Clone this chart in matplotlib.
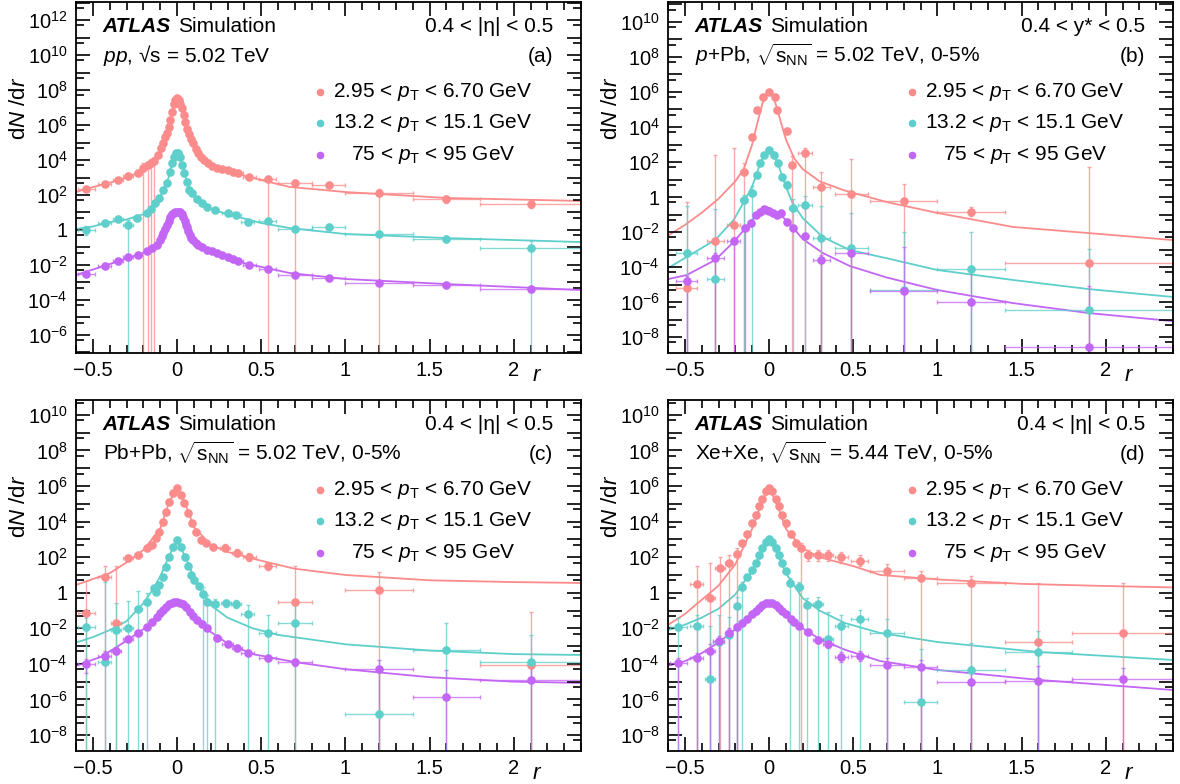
import numpy as np
import matplotlib.pyplot as plt
from matplotlib.ticker import FixedLocator, FuncFormatter, MultipleLocator

plt.rcParams['font.family'] = ['Liberation Sans', 'DejaVu Sans']
plt.rcParams['mathtext.fontset'] = 'custom'
plt.rcParams['mathtext.rm'] = 'Liberation Sans'
plt.rcParams['mathtext.it'] = 'Liberation Sans:italic'
plt.rcParams['mathtext.bf'] = 'Liberation Sans:bold'

PINK = '#fc8b8b'
TEAL = '#5ecfca'
PURPLE = '#c466f5'

legend_labels = ['2.95 < $p_\\mathrm{T}$ < 6.70 GeV',
                 '13.2 < $p_\\mathrm{T}$ < 15.1 GeV',
                 '75 < $p_\\mathrm{T}$ < 95 GeV']
systems = ['$pp$, \u221as = 5.02 TeV',
           '$p$+Pb, $\\sqrt{\\mathrm{s}_\\mathrm{NN}}$ = 5.02 TeV, 0-5%',
           'Pb+Pb, $\\sqrt{\\mathrm{s}_\\mathrm{NN}}$ = 5.02 TeV, 0-5%',
           'Xe+Xe, $\\sqrt{\\mathrm{s}_\\mathrm{NN}}$ = 5.44 TeV, 0-5%']
ranges = ['0.4 < |\u03b7| < 0.5', '0.4 < y* < 0.5', '0.4 < |\u03b7| < 0.5', '0.4 < |\u03b7| < 0.5']
tags = ['(a)', '(b)', '(c)', '(d)']
ylims = [(-7.03, 13.03), (-8.91, 11.14), (-8.9, 10.84), (-8.9, 10.84)]

# rows: (r, log10 dN/dr[, x half width, err down in decades (99 = to axis), err up])
a_pink = [(-0.54, 2.34, 0.05, 0.1, 0.1), (-0.43, 2.63, 0.04, 0.1, 0.1), (-0.35, 2.86, 0.03, 0.1, 0.1),
          (-0.29, 3.09, 0.03, 0.15, 0.15), (-0.23, 3.26, 0.02, 0.15, 0.15), (-0.2, 3.55, 0.01, 99, 0.3),
          (-0.175, 3.7, 0.01, 99, 0.2), (-0.155, 3.85, 0.01, 99, 0.2), (-0.135, 3.95, 0.01, 99, 0.2),
          (-0.11, 4.3), (-0.095, 4.7), (-0.083, 4.97), (-0.07, 5.3), (-0.06, 5.54), (-0.05, 5.9),
          (-0.04, 6.29), (-0.03, 6.75), (-0.02, 7.2), (-0.01, 7.45), (0.0, 7.54), (0.01, 7.45),
          (0.02, 7.2), (0.03, 7.0), (0.04, 6.6), (0.048, 6.2), (0.06, 5.8), (0.07, 5.5), (0.083, 5.2),
          (0.095, 4.97), (0.11, 4.65), (0.125, 4.4), (0.14, 4.2), (0.16, 4.0), (0.185, 3.83),
          (0.21, 3.68), (0.24, 3.54, 0.02, 0.1, 0.1), (0.27, 3.48, 0.02, 0.1, 0.1), (0.3, 3.43, 0.03, 0.1, 0.1),
          (0.33, 3.33, 0.03, 0.1, 0.1), (0.36, 3.26, 0.03, 0.1, 0.1), (0.43, 3.03, 0.04, 0.1, 0.1),
          (0.54, 2.91, 0.05, 99, 0.1), (0.7, 2.69, 0.1, 99, 0.15), (0.9, 2.57, 0.1, 0.05, 0.05),
          (1.2, 2.11, 0.2, 99, 0.25), (1.6, 1.77, 0.2, 0.25, 0.2), (2.1, 1.49, 0.3, 0.25, 0.25)]
a_teal = [(-0.54, 0.0, 0.05, 0.3, 0.2), (-0.43, 0.4, 0.04, 0.15, 0.15), (-0.35, 0.63, 0.03, 0.1, 0.1),
          (-0.29, 0.29, 0.03, 99, 0.3), (-0.24, 0.69, 0.02, 0.2, 0.15), (-0.18, 0.97, 0.02, 0.1, 0.1),
          (-0.155, 1.2), (-0.13, 1.54), (-0.105, 1.83), (-0.083, 2.29), (-0.06, 2.69), (-0.042, 3.31),
          (-0.03, 3.83), (-0.018, 4.17), (-0.006, 4.42), (0.006, 4.42), (0.018, 4.17), (0.03, 3.71),
          (0.042, 3.26), (0.06, 2.72), (0.072, 2.3), (0.09, 2.1), (0.12, 1.77), (0.15, 1.54),
          (0.18, 1.31), (0.225, 1.14, 0.02, 0.1, 0.1), (0.3, 0.97, 0.03, 0.15, 0.1), (0.35, 0.86, 0.03, 0.15, 0.1),
          (0.42, 0.46, 0.04, 0.15, 0.15), (0.54, 0.51, 0.05, 0.1, 0.1), (0.7, 0.08, 0.1, 0.1, 0.1),
          (0.9, 0.17, 0.1, 0.05, 0.05), (1.2, -0.23, 0.2, 0.05, 0.05), (1.6, -0.51, 0.2, 0.15, 0.15),
          (2.1, -1.03, 0.3, 99, 0.4)]
a_purple = [(-0.54, -2.51, 0.05, 0.1, 0.1), (-0.43, -2.06, 0.04, 0.1, 0.1), (-0.35, -1.77, 0.03, 0.05, 0.05),
            (-0.29, -1.54, 0.03, 0.05, 0.05), (-0.23, -1.43, 0.02, 0.05, 0.05), (-0.18, -1.2), (-0.15, -1.03),
            (-0.12, -0.86), (-0.1, -0.57), (-0.09, -0.35), (-0.083, -0.17), (-0.07, 0.05), (-0.06, 0.29),
            (-0.05, 0.5), (-0.042, 0.74), (-0.03, 0.9), (-0.02, 0.97), (-0.01, 1.02), (0.0, 1.05),
            (0.01, 1.03), (0.018, 1.0), (0.027, 0.9), (0.036, 0.74), (0.045, 0.5), (0.053, 0.3),
            (0.06, 0.17), (0.068, -0.05), (0.077, -0.29), (0.085, -0.45), (0.095, -0.57), (0.11, -0.75),
            (0.125, -0.86), (0.15, -1.0), (0.18, -1.14), (0.21, -1.22), (0.24, -1.31), (0.27, -1.42),
            (0.3, -1.54, 0.03, 0.05, 0.05), (0.33, -1.65, 0.03, 0.05, 0.05), (0.36, -1.77, 0.03, 0.05, 0.05),
            (0.43, -2.0, 0.04, 0.05, 0.05), (0.54, -2.23, 0.05, 0.05, 0.05), (0.7, -2.57, 0.1, 0.05, 0.05),
            (0.9, -2.74, 0.1, 0.05, 0.05), (1.2, -3.03, 0.2, 0.05, 0.05), (1.6, -3.14, 0.2, 0.05, 0.05),
            (2.1, -3.37, 0.3, 0.05, 0.05)]

b_pink = [(-0.49, -5.2, 0.06, 99, 4.9), (-0.32, -2.51, 0.05, 99, 4.9), (-0.21, -1.6, 0.04, 99, 4.4),
          (-0.15, 1.43, 0.02, 99, 0.5), (-0.1, 3.43, 0.0, 0.1, 0.1), (-0.07, 4.97), (-0.036, 5.71),
          (0.0, 6.0), (0.036, 5.71), (0.05, 4.97), (0.107, 3.77), (0.137, 1.83, 0.02, 99, 0.5),
          (0.214, 2.51, 0.04, 99, 0.3), (0.31, 0.55, 0.05, 99, 0.9), (0.49, 0.17, 0.1, 99, 2.0),
          (0.8, -0.23, 0.2, 99, 1.0), (1.2, -0.86, 0.2, 0.2, 0.3), (1.9, -3.77, 0.5, 99, 5.5)]
b_teal = [(-0.49, -3.2, 0.06, 99, 2.7), (-0.32, -4.69, 0.05, 99, 4.0), (-0.15, -0.17, 0.02, 99, 0.3),
          (-0.1, 0.25, 0.02, 99, 0.4), (-0.07, 1.26), (-0.053, 1.94), (-0.03, 2.4), (0.0, 2.69),
          (0.03, 2.4), (0.053, 1.94), (0.077, 1.14), (0.107, 0.69, 0.02, 0.2, 0.2),
          (0.14, -0.63, 0.02, 99, 0.5), (0.214, -0.46, 0.04, 99, 0.5), (0.31, -2.34, 0.05, 99, 1.8),
          (0.49, -2.91, 0.1, 99, 2.0), (0.8, -5.31, 0.2, 99, 3.3), (1.2, -4.11, 0.2, 99, 2.1),
          (1.9, -6.46, 0.5, 99, 3.5)]
b_purple = [(-0.49, -4.8, 0.06, 99, 0.3), (-0.32, -3.49, 0.05, 99, 0.3), (-0.21, -2.51, 0.04, 99, 0.2),
            (-0.14, -1.77, 0.02, 99, 0.1), (-0.107, -1.49), (-0.077, -1.03), (-0.053, -0.86),
            (-0.03, -0.69), (-0.015, -0.72), (0.0, -0.8), (0.024, -0.91), (0.048, -1.03), (0.07, -0.91),
            (0.107, -1.43), (0.14, -1.77), (0.214, -2.23), (0.31, -3.6, 0.05, 99, 0.3),
            (0.49, -3.2, 0.1, 99, 0.3), (0.8, -5.37, 0.2, 99, 2.5), (1.2, -6.0, 0.2, 99, 2.0),
            (1.9, -8.57, 0.5, 99, 3.5)]

c_pink = [(-0.54, -1.14, 0.05, 99, 1.8), (-0.43, 0.89, 0.04, 99, 0.6), (-0.36, -1.7, 0.03, 99, 3.2),
          (-0.29, 1.96, 0.03, 0.15, 0.15), (-0.23, 2.1, 0.02, 0.15, 0.15), (-0.18, 2.52), (-0.15, 2.69),
          (-0.125, 3.08), (-0.107, 3.42), (-0.083, 3.98), (-0.065, 4.54), (-0.048, 5.1), (-0.024, 5.61),
          (0.0, 5.89), (0.024, 5.5), (0.042, 5.05), (0.065, 4.49), (0.089, 3.93), (0.113, 3.42),
          (0.143, 2.97), (0.173, 2.8), (0.214, 2.58), (0.286, 2.52, 0.03, 0.2, 0.2), (0.357, 2.24, 0.03, 0.2, 0.2),
          (0.43, 2.01, 0.04, 0.2, 0.2), (0.54, 1.5, 0.05, 0.2, 0.2), (0.7, -0.5, 0.1, 99, 2.0),
          (1.2, 0.16, 0.2, 99, 1.0), (2.1, -4.06, 0.3, 99, 3.0)]
c_teal = [(-0.54, -1.93, 0.05, 99, 0.5), (-0.43, -3.9, 0.04, 99, 4.5), (-0.36, -2.1, 0.03, 99, 1.5),
          (-0.29, -1.98, 0.03, 99, 1.5), (-0.23, -0.91, 0.02, 99, 1.0), (-0.18, -0.52, 0.02, 99, 0.5),
          (-0.137, 0.27), (-0.125, 0.04), (-0.107, 0.44), (-0.083, 0.89), (-0.065, 1.45), (-0.048, 2.01),
          (-0.024, 2.58), (0.0, 2.95), (0.024, 2.58), (0.048, 2.0), (0.065, 1.5), (0.083, 1.0),
          (0.1, 0.7), (0.13, 0.38), (0.155, -0.07, 0.02, 99, 0.4), (0.18, -0.52, 0.02, 99, 0.4),
          (0.226, -0.63, 0.02, 99, 0.3), (0.29, -0.58, 0.03, 0.2, 0.2), (0.35, -0.63, 0.03, 0.2, 0.2),
          (0.42, -1.19, 0.04, 99, 0.5), (0.54, -2.26, 0.05, 99, 1.0), (0.7, -1.7, 0.1, 99, 1.0),
          (1.2, -6.8, 0.2, 99, 2.5), (1.6, -3.2, 0.2, 99, 1.5), (2.1, -3.9, 0.3, 99, 1.5)]
c_purple = [(-0.54, -4.0, 0.05, 0.5, 0.3), (-0.43, -3.56, 0.04, 0.3, 0.3), (-0.36, -3.27, 0.03, 0.2, 0.2),
            (-0.29, -2.6, 0.03, 0.1, 0.1), (-0.23, -2.26, 0.02, 0.1, 0.1), (-0.18, -1.93), (-0.15, -1.64),
            (-0.12, -1.36), (-0.1, -1.15), (-0.083, -0.97), (-0.065, -0.8), (-0.048, -0.63), (-0.03, -0.55),
            (-0.015, -0.52), (0.0, -0.52), (0.018, -0.55), (0.036, -0.63), (0.055, -0.8), (0.077, -1.08),
            (0.095, -1.3), (0.117, -1.53), (0.15, -1.75), (0.18, -1.98), (0.24, -2.54, 0.02, 0.1, 0.1),
            (0.3, -2.88, 0.03, 0.1, 0.1), (0.357, -3.1, 0.03, 0.1, 0.1), (0.42, -3.39, 0.04, 0.1, 0.1),
            (0.54, -3.67, 0.05, 0.1, 0.1), (0.7, -3.9, 0.1, 0.2, 0.2), (1.2, -4.3, 0.2, 99, 0.5),
            (1.6, -5.86, 0.2, 99, 1.5), (2.1, -4.9, 0.3, 99, 0.8)]

d_pink = [(-0.43, 0.5, 0.04, 99, 1.0), (-0.35, -0.3, 0.03, 99, 2.0), (-0.29, 1.4, 0.03, 99, 0.6),
          (-0.24, 1.7, 0.02, 99, 0.4), (-0.19, 2.2, 0.02, 99, 0.3), (-0.16, 2.8), (-0.13, 3.3), (-0.1, 3.9),
          (-0.08, 4.4), (-0.06, 4.9), (-0.04, 5.3), (-0.02, 5.7), (0.0, 5.9), (0.02, 5.7), (0.04, 5.3),
          (0.06, 4.9), (0.08, 4.4), (0.1, 3.9), (0.13, 3.3), (0.16, 2.8), (0.19, 2.5, 0.02, 99, 0.3),
          (0.23, 2.1, 0.02, 0.3, 0.3), (0.29, 2.1, 0.03, 0.3, 0.3), (0.35, 2.1, 0.03, 0.3, 0.3),
          (0.43, 2.0, 0.04, 0.3, 0.3), (0.54, 1.8, 0.05, 0.3, 0.3), (0.7, 1.23, 0.1, 99, 0.4),
          (0.9, 0.83, 0.1, 99, 0.4), (1.2, 0.55, 0.2, 99, 0.4), (1.6, -2.77, 0.2, 99, 3.3),
          (2.1, -2.26, 0.3, 99, 2.8)]
d_teal = [(-0.54, -1.93, 0.05, 99, 0.5), (-0.43, -1.87, 0.04, 99, 0.6), (-0.35, -4.85, 0.03, 99, 3.0),
          (-0.3, -2.77, 0.03, 99, 1.5), (-0.24, -2.37, 0.02, 99, 1.0), (-0.19, -0.74, 0.02, 99, 0.5),
          (-0.16, 0.33, 0.02, 99, 0.3), (-0.13, 0.9), (-0.1, 1.3), (-0.08, 1.7), (-0.06, 2.1), (-0.04, 2.5),
          (-0.02, 2.85), (0.0, 3.0), (0.02, 2.85), (0.04, 2.5), (0.06, 2.1), (0.08, 1.7), (0.1, 1.2),
          (0.125, 0.55, 0.02, 99, 0.3), (0.18, 0.33, 0.02, 99, 0.3), (0.226, -0.69, 0.02, 99, 0.4),
          (0.29, -0.63, 0.03, 99, 0.4), (0.35, -2.6, 0.03, 99, 1.5), (0.43, -1.87, 0.04, 99, 0.6),
          (0.54, -1.47, 0.05, 99, 0.5), (0.7, -2.26, 0.1, 99, 0.8), (0.9, -6.14, 0.1, 99, 3.0),
          (1.2, -4.34, 0.2, 99, 1.5), (1.6, -3.33, 0.2, 99, 1.2)]
d_purple = [(-0.54, -3.95, 0.05, 99, 0.3), (-0.43, -3.67, 0.04, 99, 0.3), (-0.35, -3.27, 0.03, 99, 0.4),
            (-0.3, -2.71, 0.03, 99, 0.3), (-0.24, -2.26, 0.02, 99, 0.3), (-0.19, -1.93, 0.02, 99, 0.2),
            (-0.16, -1.7), (-0.13, -1.45), (-0.1, -1.2), (-0.08, -1.0), (-0.06, -0.85), (-0.04, -0.7),
            (-0.02, -0.6), (0.0, -0.58), (0.02, -0.6), (0.04, -0.7), (0.06, -0.85), (0.08, -1.0),
            (0.1, -1.2), (0.13, -1.45), (0.15, -1.65), (0.18, -1.87), (0.23, -2.2, 0.02, 0.1, 0.1),
            (0.29, -2.65, 0.03, 0.1, 0.1), (0.35, -2.88, 0.03, 0.2, 0.2), (0.43, -3.61, 0.04, 0.3, 0.3),
            (0.54, -3.56, 0.05, 0.3, 0.3), (0.7, -4.06, 0.1, 99, 0.4), (0.9, -4.17, 0.1, 99, 0.4),
            (1.2, -5.0, 0.2, 99, 0.8), (1.6, -4.94, 0.2, 99, 0.8), (2.1, -4.85, 0.3, 99, 0.6)]

# fitted curves: (r, log10 dN/dr)
a_pink_fit = [(-0.6, 2.17), (-0.5, 2.45), (-0.4, 2.7), (-0.3, 3.0), (-0.2, 3.4), (-0.15, 3.75), (-0.1, 4.5),
              (-0.07, 5.3), (-0.05, 5.9), (-0.03, 6.75), (-0.015, 7.3), (0.0, 7.55), (0.015, 7.3), (0.03, 6.8),
              (0.05, 6.0), (0.07, 5.4), (0.1, 4.8), (0.15, 4.1), (0.2, 3.75), (0.3, 3.4), (0.4, 3.1),
              (0.5, 2.85), (0.67, 2.46), (1.0, 2.17), (1.6, 1.83), (2.4, 1.66)]
a_teal_fit = [(-0.6, 0.06), (-0.5, 0.2), (-0.4, 0.45), (-0.3, 0.6), (-0.2, 0.9), (-0.15, 1.25), (-0.1, 1.9),
              (-0.07, 2.5), (-0.05, 3.0), (-0.03, 3.8), (-0.015, 4.25), (0.0, 4.45), (0.015, 4.25), (0.03, 3.75),
              (0.05, 3.05), (0.07, 2.4), (0.1, 1.95), (0.15, 1.5), (0.2, 1.2), (0.3, 0.9), (0.4, 0.65),
              (0.5, 0.4), (0.67, 0.11), (1.0, -0.23), (1.6, -0.46), (2.4, -0.69)]
a_purple_fit = [(-0.6, -2.57), (-0.4, -1.95), (-0.2, -1.3), (-0.1, -0.6), (-0.05, 0.5), (0.0, 1.05),
                (0.05, 0.4), (0.1, -0.6), (0.2, -1.2), (0.4, -1.9), (0.67, -2.46), (1.0, -2.8), (1.6, -3.09),
                (2.4, -3.43)]
b_pink_fit = [(-0.6, -2.2), (-0.5, -1.6), (-0.4, -0.9), (-0.3, -0.1), (-0.2, 0.9), (-0.15, 1.6), (-0.1, 3.0),
              (-0.07, 4.2), (-0.04, 5.3), (-0.02, 5.85), (0.0, 6.05), (0.02, 5.85), (0.04, 5.3), (0.07, 4.3),
              (0.1, 3.3), (0.15, 2.2), (0.2, 1.6), (0.3, 0.9), (0.44, 0.4), (0.7, -0.29), (1.0, -0.91),
              (1.45, -1.71), (1.9, -2.06), (2.4, -2.46)]
b_teal_fit = [(-0.6, -4.06), (-0.49, -3.43), (-0.32, -2.46), (-0.21, -1.31), (-0.15, -0.3), (-0.1, 0.6),
              (-0.06, 1.7), (-0.03, 2.4), (0.0, 2.7), (0.03, 2.4), (0.06, 1.7), (0.1, 0.6), (0.14, -0.34),
              (0.2, -1.2), (0.32, -2.29), (0.48, -3.03), (0.7, -3.5), (1.0, -4.17), (1.45, -4.74),
              (1.9, -5.26), (2.4, -5.71)]
b_purple_fit = [(-0.6, -4.69), (-0.49, -4.46), (-0.32, -3.6), (-0.21, -2.57), (-0.15, -1.89), (-0.1, -1.3),
                (-0.05, -0.9), (0.0, -0.74), (0.05, -0.9), (0.1, -1.3), (0.14, -1.71), (0.2, -2.4),
                (0.32, -3.2), (0.48, -3.94), (0.7, -4.6), (1.0, -5.31), (1.45, -6.06), (1.9, -6.63),
                (2.4, -7.09)]
c_pink_fit = [(-0.6, 0.44), (-0.4, 1.1), (-0.3, 1.7), (-0.2, 2.4), (-0.1, 3.6), (-0.05, 5.0), (0.0, 5.95),
              (0.05, 5.0), (0.1, 3.7), (0.2, 2.7), (0.3, 2.3), (0.5, 1.8), (0.7, 1.35), (1.0, 1.0),
              (1.5, 0.7), (2.0, 0.6), (2.4, 0.55)]
c_teal_fit = [(-0.6, -2.8), (-0.5, -2.5), (-0.4, -2.1), (-0.3, -1.6), (-0.2, -0.6), (-0.15, 0.1), (-0.1, 0.9),
              (-0.05, 2.0), (0.0, 2.95), (0.05, 2.0), (0.1, 0.9), (0.15, 0.0), (0.2, -0.7), (0.3, -1.4),
              (0.45, -2.0), (0.6, -2.37), (1.0, -2.9), (1.5, -3.25), (2.0, -3.45), (2.4, -3.5)]
c_purple_fit = [(-0.6, -4.1), (-0.45, -3.6), (-0.3, -2.7), (-0.2, -2.05), (-0.1, -1.15), (-0.05, -0.7),
                (0.0, -0.52), (0.05, -0.75), (0.1, -1.3), (0.2, -2.2), (0.3, -2.85), (0.45, -3.45),
                (0.7, -3.9), (1.0, -4.3), (1.5, -4.75), (2.0, -5.0), (2.4, -5.07)]
d_pink_fit = [(-0.6, -1.81), (-0.5, -1.2), (-0.4, -0.4), (-0.3, 0.4), (-0.2, 1.6), (-0.1, 3.6), (-0.05, 4.9),
              (0.0, 5.95), (0.05, 4.9), (0.1, 3.6), (0.2, 2.5), (0.3, 2.0), (0.5, 1.5), (0.66, 1.0),
              (1.0, 0.75), (1.5, 0.5), (2.0, 0.38), (2.4, 0.3)]
d_teal_fit = [(-0.6, -2.1), (-0.5, -1.8), (-0.4, -1.4), (-0.3, -0.9), (-0.2, -0.1), (-0.15, 0.6), (-0.1, 1.2),
              (-0.05, 2.2), (0.0, 3.0), (0.05, 2.2), (0.1, 1.1), (0.2, -0.3), (0.3, -1.0), (0.45, -1.7),
              (0.66, -2.26), (1.0, -2.77), (1.6, -3.33), (2.4, -3.78)]
d_purple_fit = [(-0.6, -4.11), (-0.5, -3.85), (-0.4, -3.4), (-0.3, -2.8), (-0.2, -2.05), (-0.1, -1.2),
                (0.0, -0.55), (0.1, -1.2), (0.2, -2.0), (0.3, -2.6), (0.45, -3.2), (0.66, -3.84),
                (1.0, -4.34), (1.6, -4.9), (2.4, -5.47)]

panels = [[(a_pink, a_pink_fit), (a_teal, a_teal_fit), (a_purple, a_purple_fit)],
          [(b_pink, b_pink_fit), (b_teal, b_teal_fit), (b_purple, b_purple_fit)],
          [(c_pink, c_pink_fit), (c_teal, c_teal_fit), (c_purple, c_purple_fit)],
          [(d_pink, d_pink_fit), (d_teal, d_teal_fit), (d_purple, d_purple_fit)]]
colors = [PINK, TEAL, PURPLE]


def unpack(rows):
    r = np.array([row[0] for row in rows])
    ly = np.array([row[1] for row in rows])
    ext = np.array([row[2:] if len(row) > 2 else (0, 0, 0) for row in rows], dtype=float)
    y = 10.0 ** ly
    lo = np.where(ext[:, 1] >= 99, 1e-30, 10.0 ** (ly - np.minimum(ext[:, 1], 50)))
    hi = 10.0 ** (ly + ext[:, 2])
    return r, y, ext[:, 0], y - lo, hi - y


def log_label(v, pos):
    e = int(round(np.log10(v)))
    if e % 2:
        return ''
    if e == 0:
        return '1'
    return '$10^{%d}$' % e


fig = plt.figure(figsize=(11.8, 7.84), dpi=100)
lefts = [76 / 1180, 668 / 1180, 76 / 1180, 668 / 1180]
bottoms = [1 - 353 / 784, 1 - 353 / 784, 1 - 751 / 784, 1 - 751 / 784]
FS = 15

for i in range(4):
    ax = fig.add_axes([lefts[i], bottoms[i], 505 / 1180, 351 / 784])
    ax.set_yscale('log')
    for (rows, fit), col in zip(panels[i], colors):
        fr = [p[0] for p in fit]
        fy = [10.0 ** p[1] for p in fit]
        ax.plot(fr, fy, color=col, lw=1.3, zorder=1)
        r, y, xe, ylo, yhi = unpack(rows)
        ax.errorbar(r, y, xerr=xe, yerr=[ylo, yhi], fmt='none', ecolor=col, elinewidth=1.0,
                    capsize=1.5, capthick=1.0, alpha=0.75, zorder=2)
        ax.plot(r, y, 'o', color=col, ms=6.2, mew=0, zorder=3)

    ax.set_xlim(-0.6, 2.4)
    ax.set_ylim(10 ** ylims[i][0], 10 ** ylims[i][1])
    ax.xaxis.set_major_locator(MultipleLocator(0.5))
    ax.xaxis.set_minor_locator(MultipleLocator(0.1))
    ax.xaxis.set_major_formatter(FuncFormatter(lambda v, p: ('%g' % v).replace('-', '\u2212')))
    lo_e, hi_e = int(np.floor(ylims[i][0])), int(np.ceil(ylims[i][1]))
    ax.yaxis.set_major_locator(FixedLocator([10.0 ** e for e in range(lo_e, hi_e + 1)]))
    ax.yaxis.set_minor_locator(FixedLocator([5 * 10.0 ** e for e in range(lo_e - 1, hi_e + 1)]))
    ax.yaxis.set_major_formatter(FuncFormatter(log_label))
    ax.tick_params(which='both', direction='in', top=True, right=True, labelsize=14.5, width=1.2)
    ax.tick_params(which='major', length=10, pad=6)
    ax.tick_params(which='minor', length=6)
    for s in ax.spines.values():
        s.set_linewidth(1.3)

    atl = ax.text(0.053, 0.915, 'ATLAS', transform=ax.transAxes, fontsize=FS,
                  fontweight='bold', fontstyle='italic')
    ax.annotate('Simulation', xy=(1, 0), xycoords=atl, xytext=(5, 0), textcoords='offset points',
                fontsize=FS, va='bottom')
    ax.text(0.053, 0.829, systems[i], transform=ax.transAxes, fontsize=FS)
    ax.text(0.945, 0.915, ranges[i], transform=ax.transAxes, fontsize=FS, ha='right')
    ax.text(0.945, 0.829, tags[i], transform=ax.transAxes, fontsize=FS, ha='right')
    for k, (lab, col) in enumerate(zip(legend_labels, colors)):
        yy = 0.744 - k * 0.09
        ax.plot([0.483], [yy], 'o', color=col, ms=5.5, mew=0, transform=ax.transAxes)
        ax.text(0.707, yy, lab, transform=ax.transAxes, fontsize=FS, ha='center', va='center')
    ax.text(-0.111, 0.786, 'd$N$ /d$r$', transform=ax.transAxes, fontsize=16,
            rotation=90, ha='center', va='top')
    ax.text(0.913, -0.063, '$r$', transform=ax.transAxes, fontsize=16, ha='center', va='center')

fig.savefig('out.png', dpi=100)
